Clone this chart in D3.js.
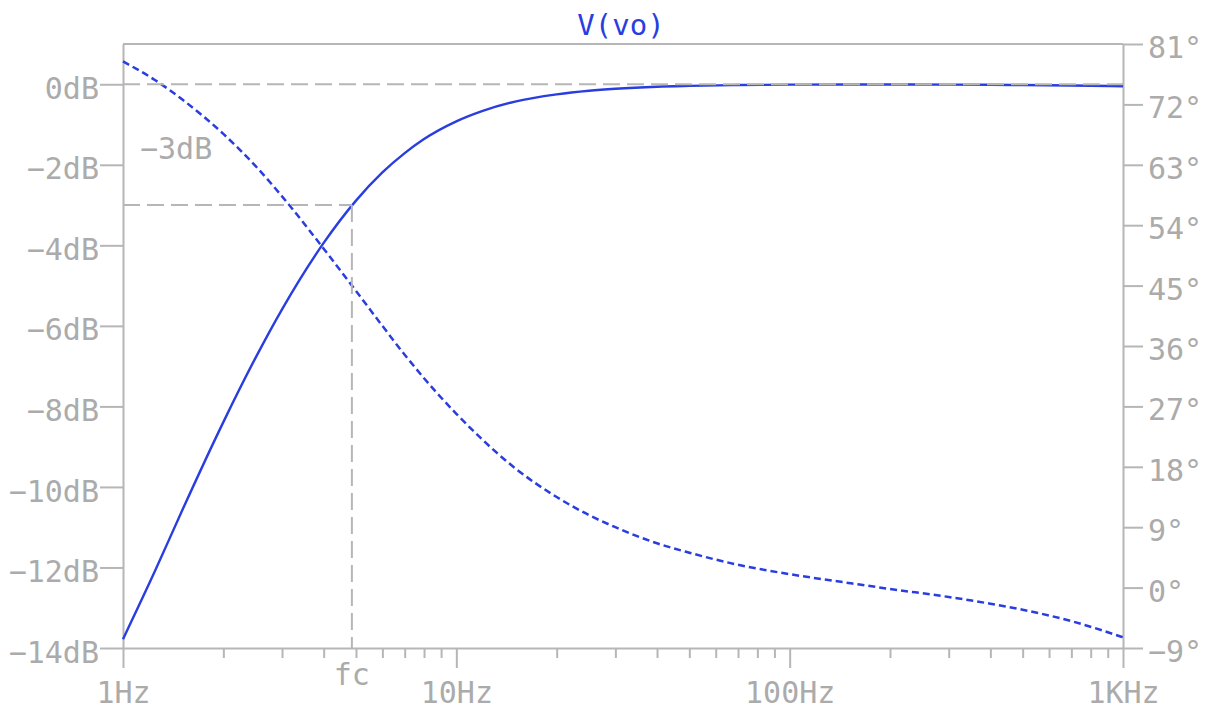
<!DOCTYPE html>
<html>
<head>
<meta charset="utf-8">
<script src="https://cdn.jsdelivr.net/npm/d3@7"></script>
<style>
  body { margin: 0; background: #fff; }
  svg { display: block; font-family: "DejaVu Sans Mono", monospace; }
  .axis path, .axis line { stroke: #b6b6b6; stroke-width: 2; }
  .axis text { fill: #ababab; font-size: 30px; font-family: "DejaVu Sans Mono", monospace; }
</style>
</head>
<body>
<svg id="chart" width="1212" height="709"></svg>
<script>
// frequency sweep (Hz)
const freqs = [1, 1.25, 1.5, 2, 2.5, 3, 4, 5, 6, 7, 8, 10, 12, 15, 20, 25, 30, 40, 50, 70, 100, 150, 200, 300, 400, 500, 700, 1000];
// magnitude of V(vo), dB (solid line)
const magDb = [-13.78, -12.07, -10.61, -8.39, -6.79, -5.59, -3.94, -2.89, -2.19, -1.71, -1.36, -0.92, -0.66, -0.43, -0.25, -0.16, -0.11, -0.06, -0.04, -0.02, -0.01, -0.005, -0.005, -0.008, -0.013, -0.02, -0.03, -0.05];
// phase of V(vo), degrees (dotted line)
const phaseDeg = [78.4, 75.6, 72.8, 67.6, 62.8, 58.3, 50.5, 44.2, 39.0, 34.7, 31.2, 25.9, 22.0, 17.8, 13.5, 10.8, 9.0, 6.6, 5.2, 3.4, 2.0, 0.7, -0.2, -1.4, -2.4, -3.3, -5.0, -7.4];

const dbTicks = [-14, -12, -10, -8, -6, -4, -2, 0];
const degTicks = [-9, 0, 9, 18, 27, 36, 45, 54, 63, 72, 81];
const decadeTicks = [1, 10, 100, 1000];
const decadeLabels = ["1Hz", "10Hz", "100Hz", "1KHz"];
const minorTicks = [2, 3, 4, 5, 6, 7, 8, 9, 20, 30, 40, 50, 60, 70, 80, 90, 200, 300, 400, 500, 600, 700, 800, 900];

const fc = 4.86;      // corner frequency
const cutoffDb = -3;

const margin = { top: 44, right: 89, bottom: 61, left: 123 };
const width = 1212, height = 709;

const svg = d3.select("#chart");
const x = d3.scaleLog().domain([1, 1000]).range([margin.left, width - margin.right]);
const yDb = d3.scaleLinear().domain([-14, 1]).range([height - margin.bottom, margin.top]);
const yDeg = d3.scaleLinear().domain([-9, 81]).range([height - margin.bottom, margin.top]);

const rows = freqs.map((f, i) => ({ f, db: magDb[i], deg: phaseDeg[i] }));
const blue = "#2a3ddf";

// top border
svg.append("line")
  .attr("x1", margin.left).attr("x2", width - margin.right)
  .attr("y1", margin.top).attr("y2", margin.top)
  .attr("stroke", "#b6b6b6").attr("stroke-width", 2);

// axes
const left = svg.append("g").attr("class", "axis")
  .attr("transform", `translate(${margin.left},0)`)
  .call(d3.axisLeft(yDb).tickValues(dbTicks).tickSize(23).tickSizeOuter(0).tickPadding(1)
    .tickFormat((d) => `${d < 0 ? "\u2212" + Math.abs(d) : d}dB`));
left.selectAll("text").attr("dy", "0.47em");

const right = svg.append("g").attr("class", "axis")
  .attr("transform", `translate(${width - margin.right},0)`)
  .call(d3.axisRight(yDeg).tickValues(degTicks).tickSize(20).tickSizeOuter(0).tickPadding(5)
    .tickFormat((d) => `${d < 0 ? "\u2212" + Math.abs(d) : d}\u00b0`));
right.selectAll("text").attr("dy", "0.45em");

svg.append("g").attr("class", "axis")
  .attr("transform", `translate(0,${height - margin.bottom})`)
  .call(d3.axisBottom(x).tickValues(minorTicks).tickSize(10).tickSizeOuter(0).tickFormat(""))
  .call((g) => g.select(".domain").remove());

const bottom = svg.append("g").attr("class", "axis")
  .attr("transform", `translate(0,${height - margin.bottom})`)
  .call(d3.axisBottom(x).tickValues(decadeTicks).tickSize(20).tickSizeOuter(0).tickPadding(6)
    .tickFormat((d, i) => decadeLabels[i]));
bottom.selectAll("text").attr("dy", "0.95em");

// curves
const magLine = d3.line().curve(d3.curveMonotoneX)
  .x((d) => x(d.f)).y((d) => yDb(d.db));
const phaseLine = d3.line().curve(d3.curveMonotoneX)
  .x((d) => x(d.f)).y((d) => yDeg(d.deg));

svg.append("path").datum(rows)
  .attr("d", phaseLine)
  .attr("fill", "none").attr("stroke", blue).attr("stroke-width", 2.5)
  .attr("stroke-dasharray", "7,4");

svg.append("path").datum(rows)
  .attr("d", magLine)
  .attr("fill", "none").attr("stroke", blue).attr("stroke-width", 2.4);

// reference markers
const refs = svg.append("g")
  .attr("stroke", "#b6b6b6").attr("stroke-width", 2).attr("stroke-dasharray", "17,7");
refs.append("line")
  .attr("x1", x(1)).attr("x2", x(1000)).attr("y1", yDb(0)).attr("y2", yDb(0));
refs.append("line")
  .attr("x1", x(1)).attr("x2", x(fc)).attr("y1", yDb(cutoffDb)).attr("y2", yDb(cutoffDb));
refs.append("line")
  .attr("x1", x(fc)).attr("x2", x(fc)).attr("y1", yDb(cutoffDb)).attr("y2", yDb(-14));

svg.append("text")
  .attr("x", x(1) + 17).attr("y", yDb(cutoffDb) - 46)
  .attr("fill", "#ababab").attr("font-size", 30)
  .text("\u22123dB");

svg.append("text")
  .attr("x", x(fc)).attr("y", height - 24)
  .attr("text-anchor", "middle")
  .attr("fill", "#ababab").attr("font-size", 30)
  .text("fc");

// title
svg.append("text")
  .attr("x", 621).attr("y", 35)
  .attr("text-anchor", "middle")
  .attr("fill", blue).attr("font-size", 29)
  .text("V(vo)");
</script>
</body>
</html>
